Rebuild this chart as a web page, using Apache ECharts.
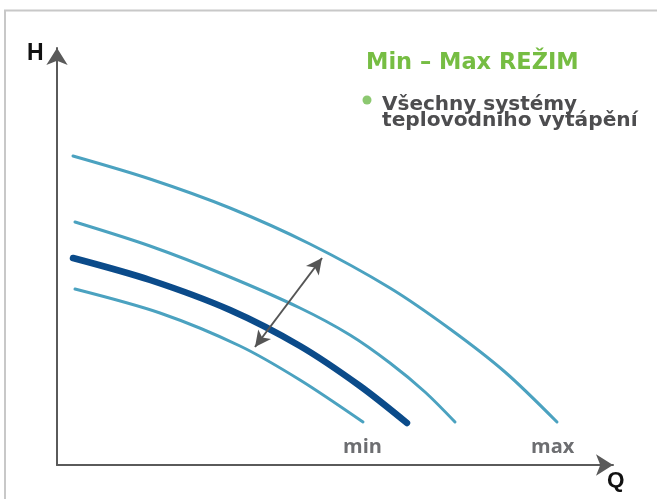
<!DOCTYPE html>
<html><head><meta charset="utf-8">
<script src="https://cdn.jsdelivr.net/npm/echarts@6/dist/echarts.min.js"></script>
<style>html,body{margin:0;padding:0;background:#fff}#c{width:657px;height:499px}</style>
</head><body><div id="c"></div>
<script>
// Q-H curves (x = flow Q, y = head H), in arbitrary units
const curveMax  = [[16,309],[93,286],[173,257],[253,221],[333,177],[393,136],[448,93],[500,43]];
const curveMid  = [[18,243],[93,219],[168,190],[243,157],[293,130],[333,102],[368,73],[398,43]];
const curveMain = [[16,207],[93,185],[173,155],[243,119],[303,79],[350,42]];
const curveMin  = [[18,176],[103,152],[183,119],[243,85],[306,43]];
const arrowFrom = [198,118];
const arrowTo   = [265,207];
const xMax = 556, yMax = 417;

const light = '#4ba2c0', dark = '#0b4b8a', axisCol = '#5a5a5a';
const chart = echarts.init(document.getElementById('c'));
function curve(data, color, width){
  return {type:'line', data, smooth:0.3, showSymbol:false, symbol:'none',
    lineStyle:{color, width, cap:'round'}, silent:true, animation:false};
}
const heavy = '"DejaVu Sans", "Open Sans"';
function txt(x, y, text, size, family, color){
  return {type:'text', x, y, style:{text, fontSize:size, fontWeight:'bold', fontFamily:family,
    fill:color, verticalAlign:'middle'}};
}
chart.setOption({
  animation:false,
  grid:{left:57,right:44,top:48,bottom:34},
  xAxis:{type:'value',min:0,max:xMax,
    axisLine:{show:true,lineStyle:{color:axisCol,width:2},symbol:['none','arrow'],symbolSize:[16,17]},
    axisTick:{show:false},axisLabel:{show:false},splitLine:{show:false}},
  yAxis:{type:'value',min:0,max:yMax,
    axisLine:{show:true,lineStyle:{color:axisCol,width:2},symbol:['none','arrow'],symbolSize:[16,17]},
    axisTick:{show:false},axisLabel:{show:false},splitLine:{show:false}},
  series:[
    curve(curveMax, light, 3),
    curve(curveMid, light, 3),
    curve(curveMin, light, 3),
    Object.assign(curve(curveMain, dark, 6.5), {
      markLine:{silent:true, symbol:['arrow','arrow'], symbolSize:[12,16],
        label:{show:false}, lineStyle:{color:'#555',width:2,type:'solid'},
        data:[[{coord:arrowFrom},{coord:arrowTo}]]}
    })
  ],
  graphic:[
    {type:'polyline',shape:{points:[[5,499],[5,10.5],[657,10.5]]},style:{stroke:'#c8c8c8',lineWidth:2,fill:null}},
    txt(27, 54, 'H', 23, '"Liberation Sans", Arial', '#111'),
    txt(607, 481, 'Q', 22.5, '"Liberation Sans", Arial', '#111'),
    txt(366, 63.5, 'Min – Max REŽIM', 22.5, heavy, '#76bd43'),
    {type:'circle',shape:{cx:367,cy:100,r:4.5},style:{fill:'#8cc870'}},
    txt(382, 104.5, 'Všechny systémy', 20, heavy, '#4d4d4f'),
    txt(382, 120.5, 'teplovodního vytápění', 20.2, heavy, '#4d4d4f'),
    txt(343, 447, 'min', 20, '"Open Sans", Lato', '#6d6e71'),
    txt(531, 447, 'max', 20, '"Open Sans", Lato', '#6d6e71')
  ]
});
</script></body></html>
